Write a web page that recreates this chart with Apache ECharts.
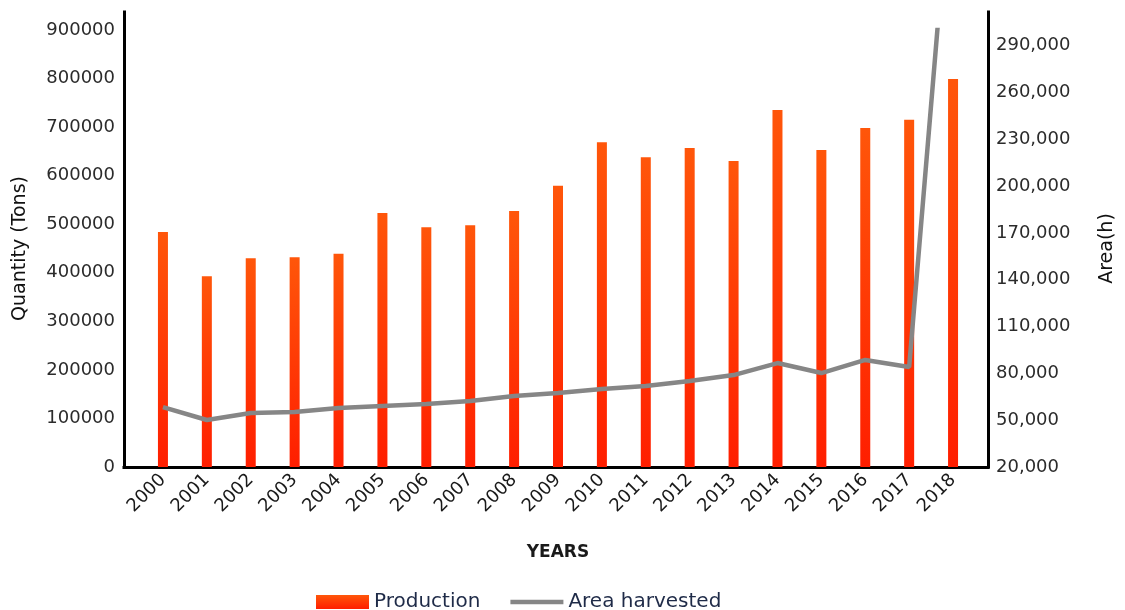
<!DOCTYPE html>
<html>
<head>
<meta charset="utf-8">
<script src="https://cdn.jsdelivr.net/npm/echarts@6/dist/echarts.min.js"></script>
<style>
  html, body { margin: 0; padding: 0; background: #fff; }
  #chart { width: 1125px; height: 610px; }
</style>
</head>
<body>
<div id="chart"></div>
<script>
// Yearly production (tons) and harvested area (ha)
const years = ['2000','2001','2002','2003','2004','2005','2006','2007','2008','2009',
               '2010','2011','2012','2013','2014','2015','2016','2017','2018'];
const production = [484000, 393000, 430000, 432000, 439000, 523000, 494000, 498000, 527000, 579000,
                    669000, 638000, 657000, 630000, 735000, 653000, 698000, 715000, 799000];
const areaHarvested = [58400, 50100, 54600, 55200, 57800, 59100, 60400, 62300, 65500, 67400,
                       70000, 71900, 75100, 78900, 86600, 80200, 88600, 84100, 420000];

const FONT = 'DejaVu Sans';
const frameLine = { show: true, onZero: false, lineStyle: { color: '#000', width: 3, cap: 'square' } };

const chart = echarts.init(document.getElementById('chart'));
chart.setOption({
  animation: false,
  backgroundColor: '#fff',
  textStyle: { fontFamily: FONT },
  legend: {
    left: 316, top: 592, padding: 0,
    itemWidth: 53, itemHeight: 14, itemGap: 30,
    selectedMode: false,
    textStyle: { fontFamily: FONT, fontSize: 20, color: '#1f2b48' },
    data: [
      { name: 'Production', icon: 'rect' },
      { name: 'Area harvested', icon: 'path://M0,0H56V5H0Z' }
    ]
  },
  grid: [
    // plotting area
    { left: 141, right: 149, top: 30, bottom: 143 },
    // outer axis frame
    { left: 124, right: 137, top: 12, bottom: 143 }
  ],
  xAxis: [
    {
      type: 'category', gridIndex: 0, data: years,
      axisLine: { show: false }, axisTick: { show: false },
      axisLabel: { rotate: 45, margin: 10, fontSize: 18, color: '#1a1a1a', interval: 0 },
      name: 'YEARS', nameLocation: 'middle', nameGap: 77,
      nameTextStyle: { fontFamily: FONT, fontSize: 17, fontWeight: 'bold', color: '#1a1a1a' }
    },
    {
      type: 'value', gridIndex: 1, min: 0, max: 1,
      axisLine: frameLine, axisTick: { show: false }, axisLabel: { show: false }, splitLine: { show: false }
    }
  ],
  yAxis: [
    {
      type: 'value', gridIndex: 0, position: 'left', offset: 17,
      min: 0, max: 900000, interval: 100000,
      axisLine: { show: false }, axisTick: { show: false }, splitLine: { show: false },
      axisLabel: { margin: 9, fontSize: 18, color: '#2b2b2b', formatter: v => String(v) },
      name: 'Quantity (Tons)', nameLocation: 'middle', nameGap: 94,
      nameTextStyle: { fontFamily: FONT, fontSize: 19, color: '#111' }
    },
    {
      type: 'value', gridIndex: 0, position: 'right', offset: 12,
      min: 20000, max: 300000, interval: 30000,
      axisLine: { show: false }, axisTick: { show: false }, splitLine: { show: false },
      axisLabel: {
        margin: 9, fontSize: 18, color: '#2b2b2b',
        showMaxLabel: false,
        formatter: v => v.toLocaleString('en-US')
      },
      name: 'Area(h)', nameLocation: 'middle', nameGap: 111,
      nameTextStyle: { fontFamily: FONT, fontSize: 19, color: '#111' }
    },
    {
      type: 'value', gridIndex: 1, position: 'left', min: 0, max: 1,
      axisLine: frameLine, axisTick: { show: false }, axisLabel: { show: false }, splitLine: { show: false }
    },
    {
      type: 'value', gridIndex: 1, position: 'right', min: 0, max: 1,
      axisLine: frameLine, axisTick: { show: false }, axisLabel: { show: false }, splitLine: { show: false }
    }
  ],
  series: [
    {
      name: 'Production', type: 'bar', xAxisIndex: 0, yAxisIndex: 0,
      data: production, barWidth: 10,
      itemStyle: {
        color: {
          type: 'linear', x: 0, y: 0, x2: 0, y2: 1,
          colorStops: [
            { offset: 0, color: '#ff560a' },
            { offset: 1, color: '#ff1e00' }
          ]
        }
      }
    },
    {
      name: 'Area harvested', type: 'line', xAxisIndex: 0, yAxisIndex: 1,
      data: areaHarvested, symbol: 'none', clip: true,
      lineStyle: { color: '#868686', width: 4.5 },
      itemStyle: { color: '#868686' },
      z: 3
    }
  ]
});
</script>
</body>
</html>
